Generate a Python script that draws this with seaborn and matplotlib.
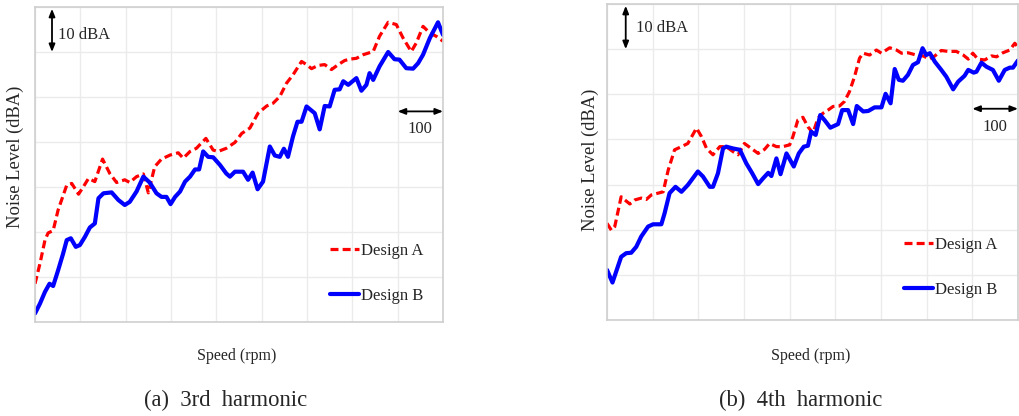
import matplotlib
matplotlib.use("Agg")
import matplotlib.pyplot as plt
import seaborn as sns
import pandas as pd

# ---- 3rd harmonic: speed (rpm, relative) and noise level (dBA, relative) ----
h3_a_speed = [0, 11, 22, 29, 40, 51, 70, 81, 96, 107, 118, 132, 149, 165, 180, 198, 209, 224, 239, 250,
              264, 279, 298, 316, 327, 342, 356, 377, 393, 404, 422, 441, 456, 474, 492, 511, 525, 540, 555, 569,
              588, 599, 610, 624, 639, 654, 669, 683, 694, 709, 724, 746, 760, 779, 797, 812, 830, 841, 856, 871,
              885, 900]
h3_a_level = [8.5, 13.0, 18.2, 19.8, 20.3, 24.9, 30.4, 30.8, 28.4, 30.1, 31.9, 31.2, 36.2, 33.0, 31.0, 31.6, 31.0, 32.3, 32.9, 28.7,
              34.5, 36.2, 37.1, 37.6, 36.4, 37.9, 38.6, 40.8, 38.2, 37.9, 38.6, 39.9, 41.9, 43.1, 46.4, 48.0, 48.6, 50.1, 53.1, 54.9,
              57.9, 57.2, 56.3, 57.0, 57.2, 56.1, 57.2, 58.1, 58.4, 58.6, 59.4, 60.1, 63.5, 66.6, 66.1, 63.1, 60.1, 62.0, 65.7, 64.2,
              63.5, 62.4]

h3_b_speed = [0, 11, 22, 32, 40, 51, 62, 70, 79, 90, 99, 110, 121, 132, 140, 151, 169, 184, 198, 209,
              224, 239, 253, 268, 279, 290, 299, 309, 320, 331, 342, 353, 362, 371, 382, 393, 408, 422, 430, 441,
              459, 470, 480, 491, 503, 518, 529, 540, 549, 558, 569, 579, 588, 599, 617, 628, 639, 650, 661, 672,
              680, 691, 709, 720, 731, 738, 746, 760, 779, 793, 804, 819, 834, 845, 856, 871, 889, 900]
h3_b_level = [1.9, 4.1, 6.7, 8.5, 8.0, 11.5, 15.2, 18.2, 18.6, 16.7, 17.1, 18.9, 21.0, 21.9, 27.5, 28.6, 28.8, 27.1, 26.0, 26.7,
              29.0, 32.3, 31.0, 28.6, 27.8, 27.8, 26.2, 27.8, 29.0, 31.2, 32.3, 33.9, 33.9, 37.9, 36.7, 36.6, 34.9, 33.0, 32.3, 33.4,
              33.4, 31.6, 33.2, 29.5, 31.2, 39.0, 37.0, 36.7, 38.5, 36.7, 41.2, 44.5, 44.5, 47.9, 46.4, 42.8, 48.0, 47.9, 51.6, 51.7,
              53.5, 52.7, 54.2, 51.4, 52.7, 55.3, 53.8, 56.8, 60.0, 58.4, 58.3, 56.4, 56.3, 57.5, 59.4, 63.1, 66.6, 63.8]

# ---- 4th harmonic ----
h4_a_speed = [0, 9.5, 17, 31, 39, 50, 61, 75, 86, 97, 112, 123, 134, 148, 163, 177, 196, 207, 218, 232,
              247, 261, 276, 287, 301, 316, 331, 345, 356, 371, 385, 400, 407, 418, 429, 440, 451, 462, 473, 484,
              495, 509, 520, 531, 542, 553, 561, 575, 590, 601, 619, 634, 645, 659, 677, 692, 707, 718, 732, 747,
              765, 780, 791, 801, 812, 827, 842, 853, 867, 882, 893, 900]
h4_a_level = [21.4, 19.9, 20.7, 27.3, 26.6, 25.7, 26.6, 27.0, 26.7, 27.7, 28.1, 28.4, 33.2, 37.7, 38.4, 39.1, 42.5, 40.6, 38.0, 36.6,
              38.4, 38.4, 37.3, 36.6, 39.1, 38.0, 36.9, 37.8, 39.1, 38.4, 38.4, 38.8, 40.6, 44.3, 44.9, 42.8, 41.4, 44.7, 45.8, 46.5,
              47.3, 47.4, 48.4, 50.6, 53.9, 58.0, 59.1, 58.7, 59.8, 59.1, 60.3, 59.8, 59.1, 59.2, 58.7, 58.5, 57.8, 58.5, 59.7, 59.5,
              59.5, 58.7, 57.8, 59.1, 57.8, 57.6, 58.5, 58.3, 59.2, 59.8, 61.3, 60.4]

h4_b_speed = [0, 12, 20, 31, 42, 53, 64, 75, 90, 101, 119, 126, 137, 150, 163, 177, 199, 210, 225, 232,
              243, 254, 261, 276, 291, 305, 318, 331, 342, 353, 360, 371, 380, 393, 409, 420, 431, 440, 447, 457,
              467, 477, 489, 506, 515, 528, 539, 547, 561, 572, 586, 601, 610, 621, 630, 639, 648, 659, 670, 681,
              691, 699, 707, 718, 732, 743, 758, 769, 783, 791, 803, 809, 820, 831, 845, 858, 871, 882, 889, 900]
h4_b_level = [11.1, 8.3, 10.7, 14.0, 14.8, 14.9, 16.2, 18.5, 20.7, 21.2, 21.2, 23.6, 28.1, 29.5, 28.4, 29.9, 32.9, 31.8, 29.5, 29.5,
              32.5, 38.0, 38.4, 38.0, 37.7, 34.7, 32.5, 30.1, 31.4, 32.6, 31.9, 35.8, 32.3, 36.9, 34.0, 36.9, 38.4, 38.6, 41.7, 41.0,
              45.4, 44.2, 42.6, 43.4, 46.5, 46.5, 43.4, 47.4, 46.2, 46.3, 47.1, 47.1, 50.1, 48.0, 55.6, 53.2, 53.0, 54.3, 56.5, 57.1,
              60.2, 58.7, 59.1, 57.2, 55.4, 53.9, 51.1, 52.8, 54.1, 55.4, 54.8, 55.0, 57.0, 56.1, 55.4, 53.0, 55.4, 55.9, 55.9, 57.5]

series_names = ["Design A", "Design B"]
captions = ["(a)  3rd  harmonic", "(b)  4th  harmonic"]

sns.set_style("whitegrid", {"grid.color": "#ebebeb", "axes.edgecolor": "#cfcfcf"})
plt.rcParams["font.family"] = ["Liberation Serif", "DejaVu Serif"]

fig = plt.figure(figsize=(10.19, 4.16), dpi=100)
ax_l = fig.add_axes([35 / 1019, 1 - 322 / 416, 408 / 1019, 315 / 416])
ax_r = fig.add_axes([607 / 1019, 1 - 320 / 416, 411 / 1019, 316 / 416])

panels = [
    (ax_l, (h3_a_speed, h3_a_level), (h3_b_speed, h3_b_level), 37.5, 51, 63.8, 0.25),
    (ax_r, (h4_a_speed, h4_a_level), (h4_b_speed, h4_b_level), 41, 63, 64.7, 0.262),
]

arrow_kw = dict(arrowstyle="<|-|>,head_length=0.45,head_width=0.18", color="black",
                lw=1.3, shrinkA=0, shrinkB=0)

for ax, (sa, la), (sb, lb), arr_x, txt_x, txt_y, leg_y in panels:
    da = pd.DataFrame({"speed": sa, "level": la})
    db = pd.DataFrame({"speed": sb, "level": lb})
    sns.lineplot(data=da, x="speed", y="level", ax=ax, color="#ff0000", lw=2.3,
                 linestyle=(0, (2.5, 1.3)), sort=False, label=series_names[0])
    sns.lineplot(data=db, x="speed", y="level", ax=ax, color="#0000ff", lw=3.0,
                 sort=False, label=series_names[1])

    ax.set_xlim(0, 900)
    ax.set_ylim(0, 70)
    ax.set_xticks(range(0, 901, 100))
    ax.set_yticks(range(0, 71, 10))
    ax.set_xticklabels([])
    ax.set_yticklabels([])
    ax.tick_params(length=0)
    ax.grid(True, color="#ebebeb", lw=1.0)
    for sp in ax.spines.values():
        sp.set_color("#cfcfcf")
        sp.set_linewidth(1.2)
    ax.set_xlabel("")
    ax.set_ylabel("")

    # scale bars
    ax.annotate("", xy=(arr_x, 69.6), xytext=(arr_x, 60.0), arrowprops=arrow_kw)
    ax.text(txt_x, txt_y, "10 dBA", fontsize=12, va="center", ha="left")
    ax.annotate("", xy=(800, 46.8), xytext=(900, 46.8), arrowprops=arrow_kw)
    ax.text(850, 42.8, "100", fontsize=12, va="center", ha="center")

    ax.legend(loc="upper left", bbox_to_anchor=(0.723, leg_y), frameon=False,
              fontsize=12, handlelength=1.75, handletextpad=0.1,
              labelspacing=1.72, borderpad=0, borderaxespad=0)

fig.text(15 / 1019, 1 - 157 / 416, "Noise Level (dBA)", rotation=90, fontsize=13.3,
         ha="center", va="center")
fig.text(590 / 1019, 1 - 160 / 416, "Noise Level (dBA)", rotation=90, fontsize=13.3,
         ha="center", va="center")

fig.text(237 / 1019, 1 - 356 / 416, "Speed (rpm)", fontsize=11.5, ha="center", va="center")
fig.text(811 / 1019, 1 - 356 / 416, "Speed (rpm)", fontsize=11.5, ha="center", va="center")

fig.text(226 / 1019, 1 - 400 / 416, captions[0], fontsize=16.3, ha="center", va="center")
fig.text(801 / 1019, 1 - 400 / 416, captions[1], fontsize=16.3, ha="center", va="center")

fig.savefig("out.png", dpi=100)
